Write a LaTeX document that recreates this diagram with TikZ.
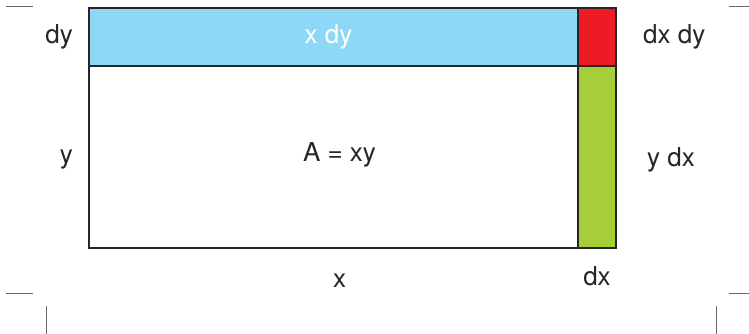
\documentclass[tikz,border=0pt]{standalone}
\usepackage{fontspec}
\setmainfont{TeX Gyre Heros}
\usetikzlibrary{positioning}
\definecolor{stripBlue}{RGB}{140,216,246}
\definecolor{cornerRed}{RGB}{237,28,36}
\definecolor{sideGreen}{RGB}{166,206,57}
\tikzset{
  areaBox/.style={rectangle, draw=black!85, line width=1.6pt, inner sep=0pt, outer sep=0pt},
  areaLbl/.style={font=\fontsize{26}{30}\selectfont, text=black!85, inner sep=0pt, text height=19pt, text depth=6pt},
  cropMark/.style={draw=black!60, line width=1pt},
}

\begin{document}
\begin{tikzpicture}[x=1pt, y=-1pt]
\useasboundingbox (0,0) rectangle (749,334);
\node (xdy) [areaBox, fill=stripBlue, minimum width=489pt, minimum height=58pt, anchor=north west] at (89,8) {};
\node (main) [areaBox, fill=white, minimum width=489pt, minimum height=182pt, below=0pt of xdy] {};
\node (dxdy) [areaBox, fill=cornerRed, minimum width=38pt, minimum height=58pt, right=0pt of xdy] {};
\node (ydx) [areaBox, fill=sideGreen, minimum width=38pt, minimum height=182pt, below=0pt of dxdy] {};

\node (lblXDy) [areaLbl, text=white] at ([xshift=-5pt]xdy.center) {x dy};
\node (lblA) [areaLbl] at ([xshift=6pt, yshift=2pt]main.center) {A = xy};
\node (lblDy) [areaLbl, left=16pt of xdy] {dy};
\node (lblY) [areaLbl, left=16pt of main] {y};
\node (lblX) [areaLbl, below=20pt of main, xshift=6pt] {x};
\node (lblDx) [areaLbl, below=18pt of ydx] {dx};
\node (lblDxDy) [areaLbl, right=27pt of dxdy] {dx dy};
\node (lblYDx) [areaLbl, right=31pt of ydx, yshift=-3pt] {y dx};

% crop marks
\draw [cropMark] (6,7) -- (33,7);
\draw [cropMark] (729,7) -- (749,7);
\draw [cropMark] (6,293) -- (33,293);
\draw [cropMark] (46,306) -- (46,334);
\draw [cropMark] (729,293) -- (749,293);
\draw [cropMark] (716,306) -- (716,334);
\end{tikzpicture}
\end{document}
